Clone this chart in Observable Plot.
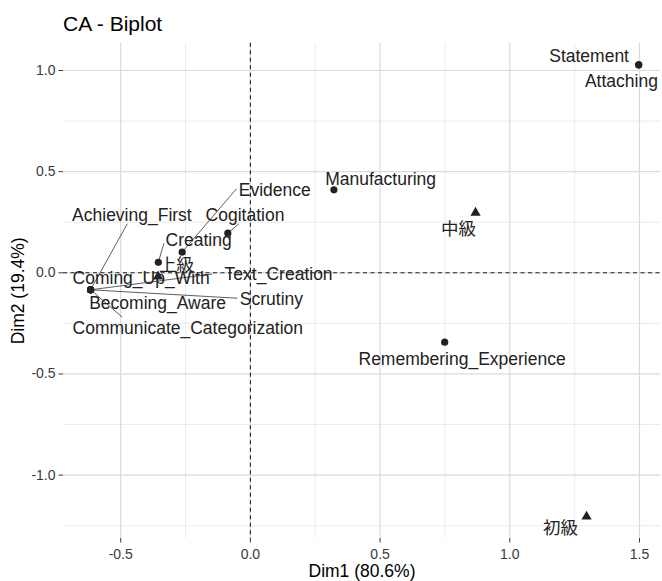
<!DOCTYPE html>
<html>
<head>
<meta charset="utf-8">
<script src="https://cdn.jsdelivr.net/npm/d3@7"></script>
<script src="https://cdn.jsdelivr.net/npm/@observablehq/plot@0.6"></script>
<style>
  body { margin: 0; background: #fff; font-family: "Liberation Sans", Arial, "Noto Sans CJK JP", sans-serif; }
  #title { position: relative; height: 40px; }
  #title span { position: absolute; left: 63px; top: 13px; font-size: 21px; line-height: 21px; color: #000; }
</style>
</head>
<body>
<div id="title"><span>CA - Biplot</span></div>
<div id="chart"></div>
<script>
// Row points (categories of the first variable) on the first two CA dimensions
const rowNames = [
  "Statement", "Attaching", "Manufacturing", "Remembering_Experience",
  "Evidence", "Cogitation", "Creating",
  "Achieving_First", "Coming_Up_With", "Text_Creation", "Scrutiny",
  "Becoming_Aware", "Communicate_Categorization"
];
const rowDim1 = [1.497, 1.497, 0.322, 0.749, -0.263, -0.087, -0.355, -0.616, -0.616, -0.616, -0.616, -0.616, -0.616];
const rowDim2 = [1.028, 1.028, 0.410, -0.343, 0.102, 0.196, 0.052, -0.084, -0.084, -0.084, -0.084, -0.084, -0.084];

// Column points (proficiency levels)
const colNames = ["初級", "中級", "上級"];
const colDim1 = [1.296, 0.868, -0.356];
const colDim2 = [-1.205, 0.297, -0.018];

// Axis ticks
const xTicks = [-0.5, 0, 0.5, 1, 1.5];
const xMinor = [-0.25, 0.25, 0.75, 1.25];
const yTicks = [-1, -0.5, 0, 0.5, 1];
const yMinor = [-1.25, -0.75, -0.25, 0.25, 0.75];
const xTitle = "Dim1 (80.6%)";
const yTitle = "Dim2 (19.4%)";

// Repelled label placement, in pixels from the point: [label dx, label dy, leader end dx, leader end dy]
const labelLayout = {
  "Statement": [-49.6, -8.2],
  "Attaching": [-17.3, 16.8],
  "Manufacturing": [46.7, -10.9],
  "Remembering_Experience": [17.4, 16.7],
  "Evidence": [92.6, -61.6, 54.3, -63.4],
  "Cogitation": [17.2, -17.6, 11, -9.4],
  "Creating": [40.3, -22.3, 5.6, -19],
  "Achieving_First": [41.3, -74.2, 36.7, -66],
  "Coming_Up_With": [50.5, -11.6],
  "Text_Creation": [188, -15.6, 121.7, -15.8],
  "Scrutiny": [180.8, 9.1, 146.7, 8.4],
  "Becoming_Aware": [67, 13.4],
  "Communicate_Categorization": [97.2, 38.4, 31.7, 27.4],
  "中級": [-17, 17],
  "初級": [-26, 11.8],
  "上級": [18.5, -11.2]
};

const W = 662, H = 541;
const mL = 63, mR = 2, mT = 2.7, mB = 43;
const xDomain = [-0.7205, 1.581];
const yDomain = [-1.3134, 1.135];
const sx = d3.scaleLinear(xDomain, [mL, W - mR]);
const sy = d3.scaleLinear(yDomain, [H - mB, mT]);

const rows = rowNames.map((name, i) => ({name, d1: rowDim1[i], d2: rowDim2[i]}));
const cols = colNames.map((name, i) => ({name, d1: colDim1[i], d2: colDim2[i]}));
const all = rows.concat(cols);

const labels = all.map(p => {
  const [dx, dy] = labelLayout[p.name];
  return {name: p.name, x: sx.invert(sx(p.d1) + dx), y: sy.invert(sy(p.d2) + dy)};
});
const leaders = all.filter(p => labelLayout[p.name].length === 4).map(p => {
  const l = labelLayout[p.name];
  return {x1: p.d1, y1: p.d2, x2: sx.invert(sx(p.d1) + l[2]), y2: sy.invert(sy(p.d2) + l[3])};
});

const fmt = d => d.toFixed(1);
const ink = "#222";

const chart = Plot.plot({
  width: W,
  height: H,
  marginLeft: mL,
  marginRight: mR,
  marginTop: mT,
  marginBottom: mB,
  style: {fontFamily: '"Liberation Sans", Arial, "Noto Sans CJK JP", sans-serif', background: "#fff"},
  x: {domain: xDomain},
  y: {domain: yDomain},
  marks: [
    Plot.ruleX(xMinor, {stroke: "#e4e4e4", strokeWidth: 0.7}),
    Plot.ruleY(yMinor, {stroke: "#e4e4e4", strokeWidth: 0.7}),
    Plot.ruleX(xTicks, {stroke: "#dadada", strokeWidth: 1.2}),
    Plot.ruleY(yTicks, {stroke: "#dadada", strokeWidth: 1.2}),
    Plot.ruleX([0], {stroke: ink, strokeWidth: 1.1, strokeDasharray: "4,3.5"}),
    Plot.ruleY([0], {stroke: ink, strokeWidth: 1.1, strokeDasharray: "4,3.5"}),
    Plot.axisX({ticks: xTicks, tickSize: 4.5, tickPadding: 6, tickFormat: fmt, fontSize: 14, color: "#3a3a3a", label: null}),
    Plot.axisY({ticks: yTicks, tickSize: 4.5, tickPadding: 3.5, tickFormat: fmt, fontSize: 14, color: "#3a3a3a", label: null}),
    Plot.text([xTitle], {frameAnchor: "bottom", lineAnchor: "middle", dy: 32.5, text: d => d, fontSize: 17.5, fill: "#000"}),
    Plot.text([yTitle], {frameAnchor: "left", textAnchor: "middle", lineAnchor: "middle", rotate: -90, dx: -45, text: d => d, fontSize: 17.5, fill: "#000"}),
    Plot.link(leaders, {x1: "x1", y1: "y1", x2: "x2", y2: "y2", stroke: "#333", strokeWidth: 0.8}),
    Plot.dot(rows, {x: "d1", y: "d2", r: 3.6, fill: ink, stroke: "none"}),
    Plot.dot(cols, {x: "d1", y: "d2", symbol: "triangle", r: 3.8, fill: ink, stroke: "none"}),
    Plot.text(labels, {x: "x", y: "y", text: "name", fontSize: 17.5, fill: ink})
  ]
});
document.getElementById("chart").append(chart);
</script>
</body>
</html>
